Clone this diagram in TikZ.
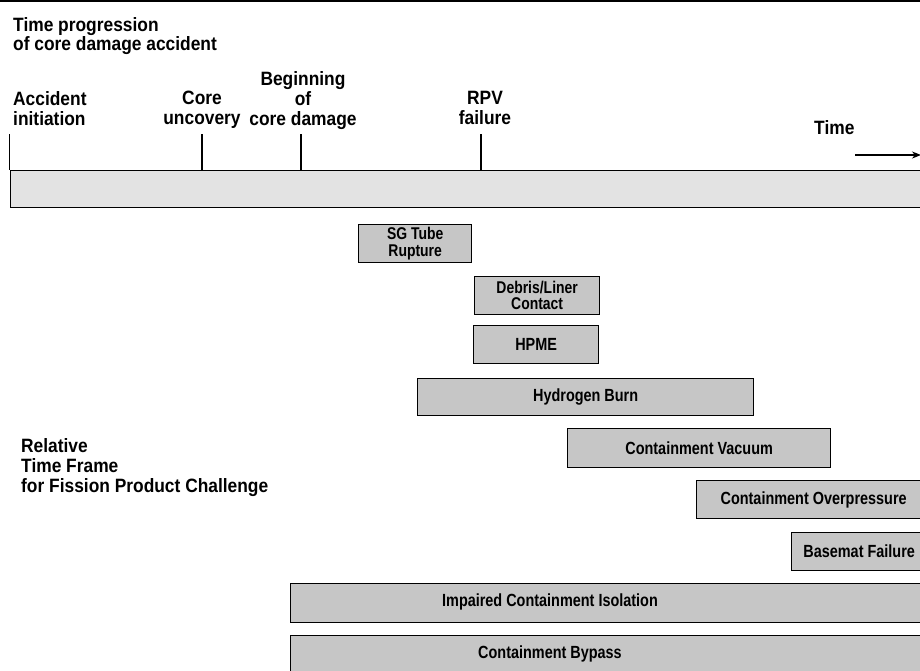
\documentclass[tikz,border=0pt]{standalone}
\usepackage{fontspec}
\setmainfont{Liberation Sans}[FakeStretch=0.9]
\newfontfamily\boxfont{Liberation Sans}[FakeStretch=0.82]
\usetikzlibrary{arrows.meta}
\begin{document}
\begin{tikzpicture}[x=1pt,y=-1pt,
  lab/.style={font=\fontsize{19.3}{20}\selectfont\bfseries, inner sep=0pt, align=left},
  labc/.style={lab, align=center, anchor=north},
  box/.style={draw=black, line width=1.3pt, fill=gray!45, inner sep=0pt,
    font=\boxfont\fontsize{17.6}{14}\selectfont\bfseries, align=center, anchor=north west},
  twoline/.style={font=\boxfont\fontsize{17}{16.5}\selectfont\bfseries},
  boxtext/.style={inner sep=0pt, font=\boxfont\fontsize{17.6}{14}\selectfont\bfseries},
  bar/.style={draw=black, line width=1.3pt, fill=gray!22, inner sep=0pt, anchor=north west},
  tick/.style={line width=1.3pt},
  timearrow/.style={line width=1.3pt, -{Stealth[length=9pt,width=7pt]}}]
\useasboundingbox (0,0) rectangle (920,670);
\clip (0,0) rectangle (920,670);
% top rule
\coordinate (rl) at (0,0.8);
\coordinate (rr) at (920,0.8);
\draw[line width=1.5pt] (rl) -- (rr);
% headings
\node[lab, anchor=north west] (title) at (13,17) {Time progression\\[-1pt]of core damage accident};
\node[lab, anchor=north west] (acc) at (13,91) {Accident\\initiation};
\node[labc] (core) at (202,91) {Core\\uncovery};
\node[labc] (beg) at (303,71) {Beginning\\of\\core damage};
\node[labc] (rpv) at (485,91) {RPV\\failure};
\node[lab, anchor=north west] (time) at (814,120) {Time};
\node[lab, anchor=north west] (rel) at (21,438) {Relative\\Time Frame\\for Fission Product Challenge};
% timeline bar
\node[bar, minimum width=940pt, minimum height=37pt] (bar) at (9.5,170) {};
\coordinate (t1) at (9.5,134);
\coordinate (t2) at (202,134);
\coordinate (t3) at (301,134);
\coordinate (t4) at (481,134);
\foreach \t in {t1,t2,t3,t4} \draw[tick] (\t) -- (\t |- bar.north);
% time arrow
\coordinate (a0) at (855,155);
\coordinate (a1) at (921,155);
\draw[timearrow] (a0) -- (a1);
% event boxes
\node[box, twoline, minimum width=113pt, minimum height=38pt] (sg) at (358,224) {SG Tube\\Rupture};
\node[box, twoline, minimum width=125pt, minimum height=38pt] (deb) at (474,276) {Debris/Liner\\Contact};
\node[box, minimum width=125pt, minimum height=38pt] (hpme) at (473,325) {HPME};
\node[box, minimum width=336pt, minimum height=37pt] (hb) at (417,378) {Hydrogen Burn};
\node[box, minimum width=263pt, minimum height=39pt] (cv) at (567,428) {Containment Vacuum};
\node[box, minimum width=234pt, minimum height=38pt] (co) at (696,480) {Containment Overpressure};
\node[box, minimum width=135pt, minimum height=38pt] (bf) at (791,532) {Basemat Failure};
\node[box, minimum width=650pt, minimum height=39pt] (ici) at (290,583) {};
\node[boxtext] (icil) at (550,602) {Impaired Containment Isolation};
\node[box, minimum width=650pt, minimum height=42pt] (cb) at (290,635) {};
\node[boxtext] (cbl) at (550,654) {Containment Bypass};
\end{tikzpicture}
\end{document}
